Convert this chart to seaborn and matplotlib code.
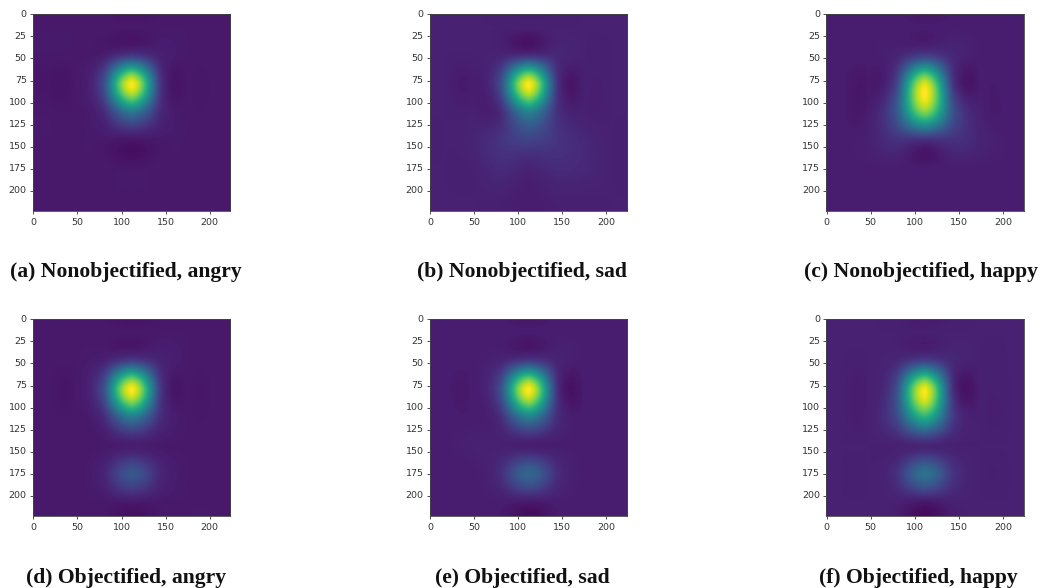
import numpy as np
import seaborn as sns
import matplotlib.pyplot as plt

sns.set_style('ticks')

# activation grids, 7x7 cells over the 224 px input
nonobj_angry = [
    [.07, .07, .07, .07, .07, .07, .07],
    [.07, .07, .08, .16, .09, .07, .07],
    [.06, .07, .23, 1.0, .16, .07, .07],
    [.07, .07, .12, .40, .12, .07, .07],
    [.07, .07, .07, .06, .07, .07, .07],
    [.07, .07, .07, .07, .07, .07, .07],
    [.07, .07, .07, .07, .07, .07, .07],
]
nonobj_sad = [
    [.09, .09, .09, .09, .09, .09, .09],
    [.09, .09, .10, .13, .11, .09, .09],
    [.09, .08, .23, 1.0, .15, .09, .09],
    [.09, .09, .12, .44, .14, .09, .09],
    [.09, .10, .15, .20, .15, .11, .09],
    [.09, .09, .12, .10, .12, .11, .09],
    [.09, .09, .09, .08, .09, .09, .09],
]
nonobj_happy = [
    [.08, .08, .08, .08, .08, .08, .08],
    [.08, .08, .10, .18, .11, .08, .08],
    [.08, .07, .20, .95, .15, .08, .08],
    [.08, .08, .27, .82, .25, .09, .08],
    [.08, .09, .14, .13, .14, .10, .08],
    [.08, .08, .08, .08, .08, .08, .08],
    [.08, .08, .08, .08, .08, .08, .08],
]
obj_angry = [
    [.07, .07, .07, .07, .07, .07, .07],
    [.07, .07, .09, .17, .10, .07, .07],
    [.07, .07, .24, 1.0, .17, .07, .07],
    [.07, .07, .12, .42, .13, .07, .07],
    [.07, .07, .07, .08, .07, .07, .07],
    [.07, .07, .10, .27, .11, .07, .07],
    [.07, .07, .07, .07, .07, .07, .07],
]
obj_sad = [
    [.08, .08, .08, .08, .08, .08, .08],
    [.08, .08, .10, .16, .10, .08, .08],
    [.08, .08, .24, 1.0, .14, .08, .08],
    [.08, .08, .13, .44, .13, .08, .08],
    [.08, .09, .09, .08, .08, .08, .08],
    [.08, .08, .13, .33, .13, .08, .08],
    [.08, .08, .08, .07, .08, .08, .08],
]
obj_happy = [
    [.09, .09, .09, .09, .09, .09, .09],
    [.09, .09, .11, .18, .11, .09, .09],
    [.09, .09, .24, .98, .13, .09, .09],
    [.09, .09, .22, .64, .17, .09, .09],
    [.09, .09, .09, .10, .09, .09, .09],
    [.09, .09, .14, .38, .15, .09, .09],
    [.09, .09, .09, .07, .09, .09, .09],
]

grids = [nonobj_angry, nonobj_sad, nonobj_happy, obj_angry, obj_sad, obj_happy]
captions = ['(a) Nonobjectified, angry', '(b) Nonobjectified, sad', '(c) Nonobjectified, happy',
            '(d) Objectified, angry', '(e) Objectified, sad', '(f) Objectified, happy']
xticks = [0, 50, 100, 150, 200]
yticks = [0, 25, 50, 75, 100, 125, 150, 175, 200]

W, H = 1040, 588
lefts = [33, 429.7, 826.3]
tops = [14, 319]
caption_x = [126, 522, 921, 126, 522.5, 918]
caption_y = [272.5, 577.5]
size = 197.3

fig = plt.figure(figsize=(W / 100, H / 100), dpi=100)

for i, grid in enumerate(grids):
    col, row = i % 3, i // 3
    ax = fig.add_axes([lefts[col] / W, 1 - (tops[row] + size) / H, size / W, size / H])
    sns.heatmap(np.array(grid), vmin=0, vmax=1, cmap='viridis', cbar=False, ax=ax)
    # heatmap only does flat cells, the cams are smooth so redraw with spline16
    mesh = ax.collections[0]
    ax.imshow(np.array(grid), cmap=mesh.cmap, norm=mesh.norm,
              interpolation='spline16', extent=(0, 7, 7, 0), aspect='auto')
    mesh.remove()
    ax.set_xlim(0, 7)
    ax.set_ylim(7, 0)

    ax.set_xticks([(t + 0.5) / 32 for t in xticks])
    ax.set_xticklabels(xticks, rotation=0)
    ax.set_yticks([(t + 0.5) / 32 for t in yticks])
    ax.set_yticklabels(yticks, rotation=0)
    ax.tick_params(labelsize=6.8, length=2.5, width=0.6, pad=2, colors='#333333')
    for s in ax.spines.values():
        s.set_visible(True)
        s.set_linewidth(0.6)
        s.set_color('#444444')

    fig.text(caption_x[i] / W, 1 - caption_y[row] / H, captions[i], ha='center', va='center',
             family='Liberation Serif', fontweight='bold', fontsize=15.6, color='#111111')

fig.savefig('out.png', dpi=100)
